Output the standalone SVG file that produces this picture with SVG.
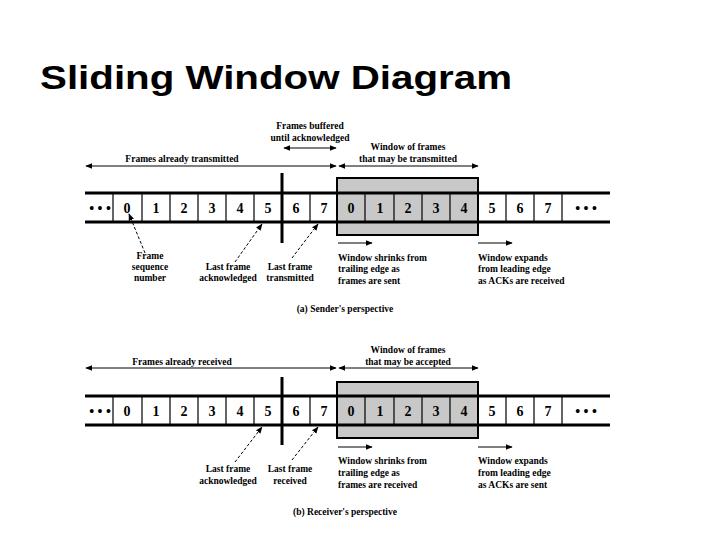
<svg xmlns="http://www.w3.org/2000/svg" width="720" height="540" viewBox="0 0 720 540">
<defs>
<marker id="ah" viewBox="0 0 10 10" refX="9" refY="5" markerWidth="7" markerHeight="7" orient="auto-start-reverse"><path d="M0,1 L10,5 L0,9 z" fill="#000"/></marker>
</defs>
<style>
.t{font-family:"Liberation Serif",serif;font-size:9.5px;font-weight:bold;fill:#000}
.n{font-family:"Liberation Serif",serif;font-size:14px;font-weight:bold;fill:#000;text-anchor:middle}
.c{text-anchor:middle}
.ln{stroke:#000;stroke-width:1.2;fill:none}
.hl{stroke:#000;stroke-width:3;fill:none}
.ar{stroke:#000;stroke-width:1;fill:none;marker-end:url(#ah)}
.ar2{stroke:#000;stroke-width:1;fill:none;marker-end:url(#ah);marker-start:url(#ah)}
.da{stroke:#000;stroke-width:1;fill:none;stroke-dasharray:3,2;marker-end:url(#ah)}
.win{fill:#c8c8c8;stroke:#000;stroke-width:2}
</style>
<rect width="720" height="540" fill="#fff"/>
<text x="40" y="89" textLength="472" lengthAdjust="spacingAndGlyphs" style="font-family:'Liberation Sans',sans-serif;font-size:34px;font-weight:bold">Sliding Window Diagram</text>

<g id="sender">
<rect class="win" x="337" y="178" width="141" height="57"/>
<line class="hl" x1="85" y1="193" x2="610" y2="193"/>
<line class="hl" x1="85" y1="222" x2="610" y2="222"/>
<g class="ln">
<path d="M113,193V222M142,193V222M170,193V222M198,193V222M226,193V222M254,193V222M310,193V222M365,193V222M394,193V222M422,193V222M450,193V222M506,193V222M534,193V222M562,193V222"/>
</g>
<line x1="282" y1="173" x2="282" y2="243" stroke="#000" stroke-width="3"/>
<text class="n" x="100" y="213">• • •</text>
<text class="n" x="127" y="213">0</text><text class="n" x="156" y="213">1</text><text class="n" x="184" y="213">2</text><text class="n" x="212" y="213">3</text><text class="n" x="240" y="213">4</text><text class="n" x="268" y="213">5</text><text class="n" x="296" y="213">6</text><text class="n" x="324" y="213">7</text>
<text class="n" x="351" y="213">0</text><text class="n" x="380" y="213">1</text><text class="n" x="408" y="213">2</text><text class="n" x="436" y="213">3</text><text class="n" x="464" y="213">4</text>
<text class="n" x="492" y="213">5</text><text class="n" x="520" y="213">6</text><text class="n" x="548" y="213">7</text><text class="n" x="586" y="213">• • •</text>
<text class="t c" x="310" y="129">Frames buffered</text>
<text class="t c" x="310" y="141">until acknowledged</text>
<text class="t c" x="408" y="150">Window of frames</text>
<text class="t c" x="408" y="162">that may be transmitted</text>
<text class="t c" x="182" y="162">Frames already transmitted</text>
<text class="t c" x="150" y="259">Frame</text><text class="t c" x="150" y="270">sequence</text><text class="t c" x="150" y="281">number</text>
<text class="t c" x="228" y="270">Last frame</text><text class="t c" x="228" y="281">acknowledged</text>
<text class="t c" x="290" y="270">Last frame</text><text class="t c" x="290" y="281">transmitted</text>
<text class="t" x="338" y="261">Window shrinks from</text><text class="t" x="338" y="272">trailing edge as</text><text class="t" x="338" y="284">frames are sent</text>
<text class="t" x="478" y="261">Window expands</text><text class="t" x="478" y="272">from leading edge</text><text class="t" x="478" y="284">as ACKs are received</text>
<text class="t c" x="345" y="312">(a) Sender's perspective</text>
</g>

<g id="receiver">
<rect class="win" x="337" y="382" width="141" height="56"/>
<line class="hl" x1="85" y1="396" x2="610" y2="396"/>
<line class="hl" x1="85" y1="425" x2="610" y2="425"/>
<g class="ln">
<path d="M113,396V425M142,396V425M170,396V425M198,396V425M226,396V425M254,396V425M310,396V425M365,396V425M394,396V425M422,396V425M450,396V425M506,396V425M534,396V425M562,396V425"/>
</g>
<line x1="282" y1="377" x2="282" y2="445" stroke="#000" stroke-width="3"/>
<text class="n" x="100" y="416">• • •</text>
<text class="n" x="127" y="416">0</text><text class="n" x="156" y="416">1</text><text class="n" x="184" y="416">2</text><text class="n" x="212" y="416">3</text><text class="n" x="240" y="416">4</text><text class="n" x="268" y="416">5</text><text class="n" x="296" y="416">6</text><text class="n" x="324" y="416">7</text>
<text class="n" x="351" y="416">0</text><text class="n" x="380" y="416">1</text><text class="n" x="408" y="416">2</text><text class="n" x="436" y="416">3</text><text class="n" x="464" y="416">4</text>
<text class="n" x="492" y="416">5</text><text class="n" x="520" y="416">6</text><text class="n" x="548" y="416">7</text><text class="n" x="586" y="416">• • •</text>
<text class="t c" x="408" y="353">Window of frames</text>
<text class="t c" x="408" y="365">that may be accepted</text>
<text class="t c" x="182" y="365">Frames already received</text>
<text class="t c" x="228" y="472">Last frame</text><text class="t c" x="228" y="484">acknowledged</text>
<text class="t c" x="290" y="472">Last frame</text><text class="t c" x="290" y="484">received</text>
<text class="t" x="338" y="464">Window shrinks from</text><text class="t" x="338" y="476">trailing edge as</text><text class="t" x="338" y="488">frames are received</text>
<text class="t" x="478" y="464">Window expands</text><text class="t" x="478" y="476">from leading edge</text><text class="t" x="478" y="488">as ACKs are sent</text>
<text class="t c" x="345" y="515">(b) Receiver's perspective</text>
</g>

<g id="connectors">
<line class="ar2" x1="86" y1="166" x2="336" y2="166"/>
<line class="ar2" x1="339" y1="166" x2="478" y2="166"/>
<line class="ar2" x1="284" y1="148" x2="336" y2="148"/>
<line class="ar" x1="338" y1="243" x2="372" y2="243"/>
<line class="ar" x1="478" y1="243" x2="512" y2="243"/>
<line class="da" x1="145" y1="253" x2="129" y2="214"/>
<line class="da" x1="235" y1="262" x2="262" y2="224"/>
<line class="da" x1="292" y1="258" x2="318" y2="224"/>
<line class="ar2" x1="86" y1="368" x2="336" y2="368"/>
<line class="ar2" x1="339" y1="368" x2="478" y2="368"/>
<line class="ar" x1="338" y1="447" x2="372" y2="447"/>
<line class="ar" x1="478" y1="447" x2="512" y2="447"/>
<line class="da" x1="235" y1="462" x2="262" y2="427"/>
<line class="da" x1="292" y1="460" x2="318" y2="427"/>
</g>
</svg>
